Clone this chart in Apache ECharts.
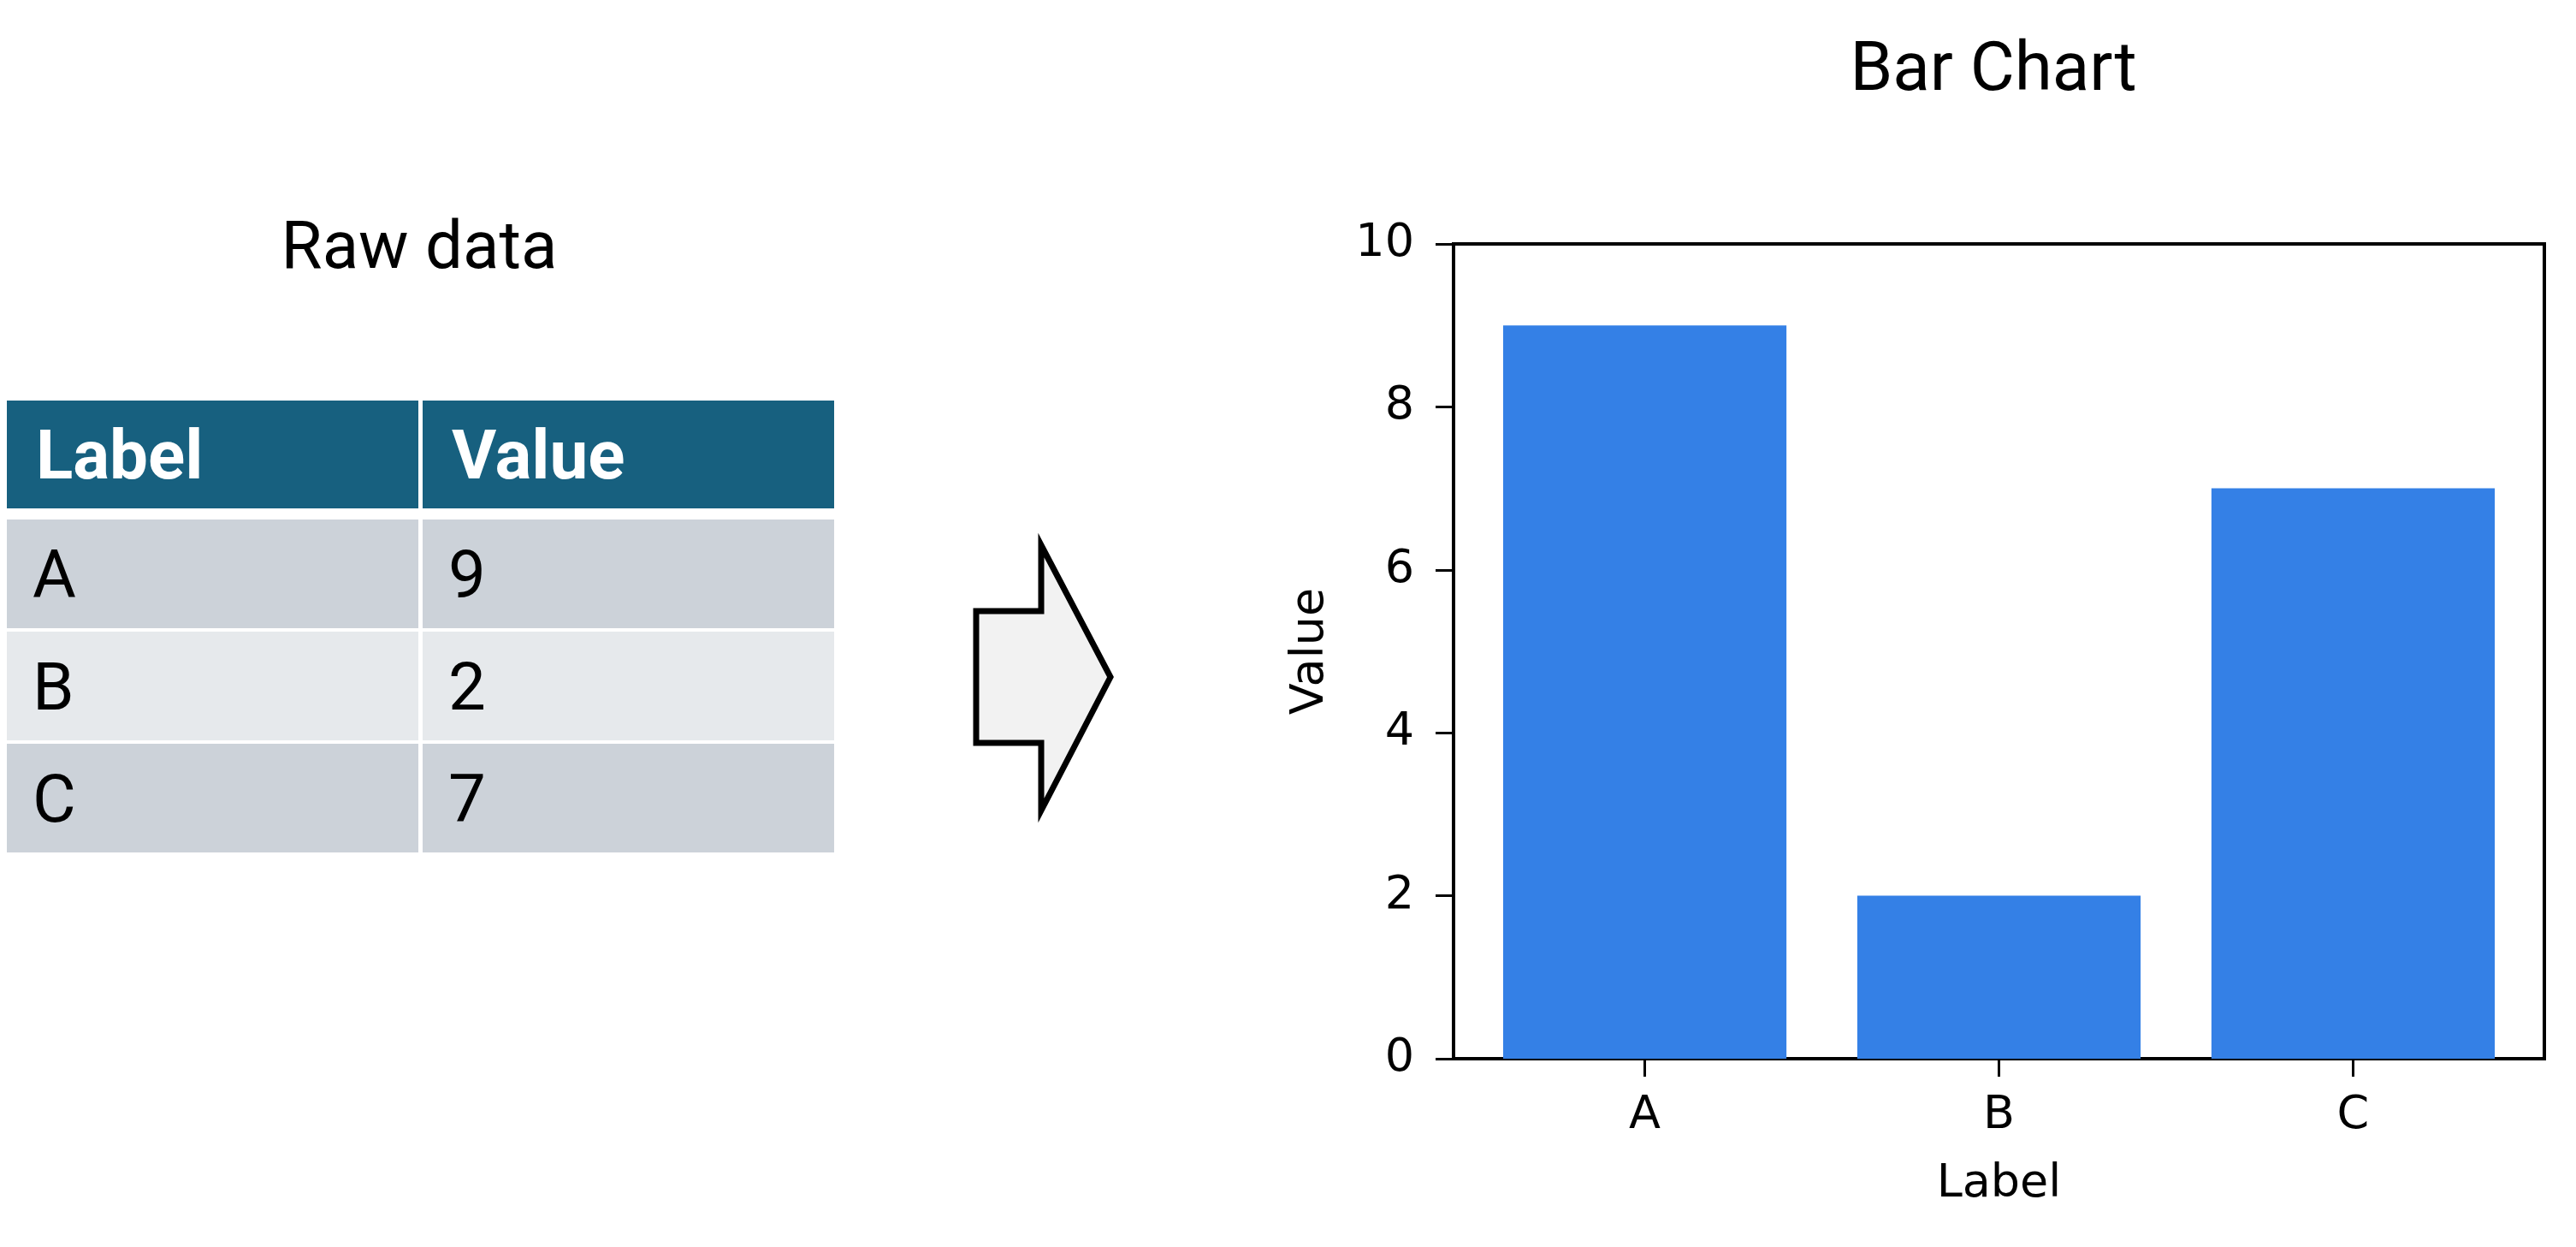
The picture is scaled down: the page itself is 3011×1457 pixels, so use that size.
<!DOCTYPE html>
<html>
<head>
<meta charset="utf-8">
<script src="https://cdn.jsdelivr.net/npm/echarts@6/dist/echarts.min.js"></script>
<style>
  html, body { margin: 0; padding: 0; background: #fff; }
  #main { width: 3011px; height: 1457px; }
</style>
</head>
<body>
<div id="main"></div>
<script>
// data
var categories = ['A', 'B', 'C']
var values = [9, 2, 7]
var tableHeader = ['Label', 'Value']
var yTicks = [0, 2, 4, 6, 8, 10]

// layout (px)
var plot = { left: 1699, top: 285, width: 1275, height: 952 }
var band = plot.width / 3.08
var inset = band * 0.04

var table = { x: 8, colW: 481, colGap: 5, headY: 468, headH: 126, rowY: 607, rowH: 127, rowGap: 4 }
var rowColors = ['#ccd2d9', '#e6e9ec', '#ccd2d9']

function buildTable() {
  var els = []
  for (var c = 0; c < 2; c++) {
    var x = table.x + c * (table.colW + table.colGap)
    els.push({
      type: 'rect',
      shape: { x: x, y: table.headY, width: table.colW, height: table.headH },
      style: { fill: '#17607f' },
    })
    els.push({
      type: 'text',
      x: x + 34,
      y: table.headY + table.headH / 2 + 8,
      style: {
        text: tableHeader[c],
        fill: '#fff',
        font: 'bold 80px Roboto',
        verticalAlign: 'middle',
      },
    })
    for (var r = 0; r < categories.length; r++) {
      var y = table.rowY + r * (table.rowH + table.rowGap)
      els.push({
        type: 'rect',
        shape: { x: x, y: y, width: table.colW, height: table.rowH },
        style: { fill: rowColors[r] },
      })
      els.push({
        type: 'text',
        x: x + 30,
        y: y + table.rowH / 2 + 8,
        style: {
          text: String(c === 0 ? categories[r] : values[r]),
          fill: '#000',
          font: '78px Roboto',
          verticalAlign: 'middle',
        },
      })
    }
  }
  // arrow
  els.push({
    type: 'polygon',
    shape: {
      points: [
        [1141, 714], [1217, 714], [1217, 637], [1298, 791],
        [1217, 947], [1217, 868], [1141, 868],
      ],
    },
    style: { fill: '#f2f2f2', stroke: '#000', lineWidth: 7, lineJoin: 'miter' },
  })
  return els
}

var chart = echarts.init(document.getElementById('main'))
var axisFont = { color: '#000', fontSize: 54, fontFamily: 'DejaVu Sans' }

chart.setOption({
  animation: false,
  backgroundColor: '#fff',
  title: [
    {
      text: 'Bar Chart',
      left: 2330,
      top: 45,
      textAlign: 'center',
      padding: 0,
      textStyle: { color: '#000', fontSize: 80, fontWeight: 'normal', fontFamily: 'Roboto' },
    },
    {
      text: 'Raw data',
      left: 490,
      top: 254,
      textAlign: 'center',
      padding: 0,
      textStyle: { color: '#000', fontSize: 78, fontWeight: 'normal', fontFamily: 'Roboto' },
    },
  ],
  grid: [
    {
      left: plot.left, top: plot.top, width: plot.width, height: plot.height,
      show: true, borderColor: '#000', borderWidth: 4, backgroundColor: 'transparent',
    },
    {
      left: plot.left + inset, top: plot.top, width: plot.width - 2 * inset, height: plot.height,
    },
  ],
  xAxis: [
    { gridIndex: 0, type: 'value', min: 0, max: 1, show: false },
    {
      gridIndex: 1,
      type: 'category',
      data: categories,
      name: 'Label',
      nameLocation: 'middle',
      nameGap: 120,
      nameTextStyle: axisFont,
      axisLine: { show: false },
      axisTick: { show: true, alignWithLabel: true, length: 21, lineStyle: { color: '#000', width: 3 } },
      axisLabel: Object.assign({ margin: 40 }, axisFont),
      splitLine: { show: false },
    },
  ],
  yAxis: [
    {
      gridIndex: 0,
      type: 'value',
      min: yTicks[0],
      max: yTicks[yTicks.length - 1],
      interval: 2,
      name: 'Value',
      nameLocation: 'middle',
      nameGap: 140,
      nameRotate: 90,
      nameTextStyle: axisFont,
      axisLine: { show: true, lineStyle: { color: '#000', width: 4 } },
      axisTick: { show: true, length: 21, lineStyle: { color: '#000', width: 3 } },
      axisLabel: Object.assign({ margin: 46 }, axisFont),
      splitLine: { show: false },
    },
    { gridIndex: 1, type: 'value', min: 0, max: 10, show: false },
  ],
  series: [
    {
      type: 'bar',
      xAxisIndex: 1,
      yAxisIndex: 1,
      data: values,
      barWidth: '80%',
      itemStyle: { color: '#3480e6' },
    },
  ],
  graphic: buildTable(),
})
</script>
</body>
</html>
